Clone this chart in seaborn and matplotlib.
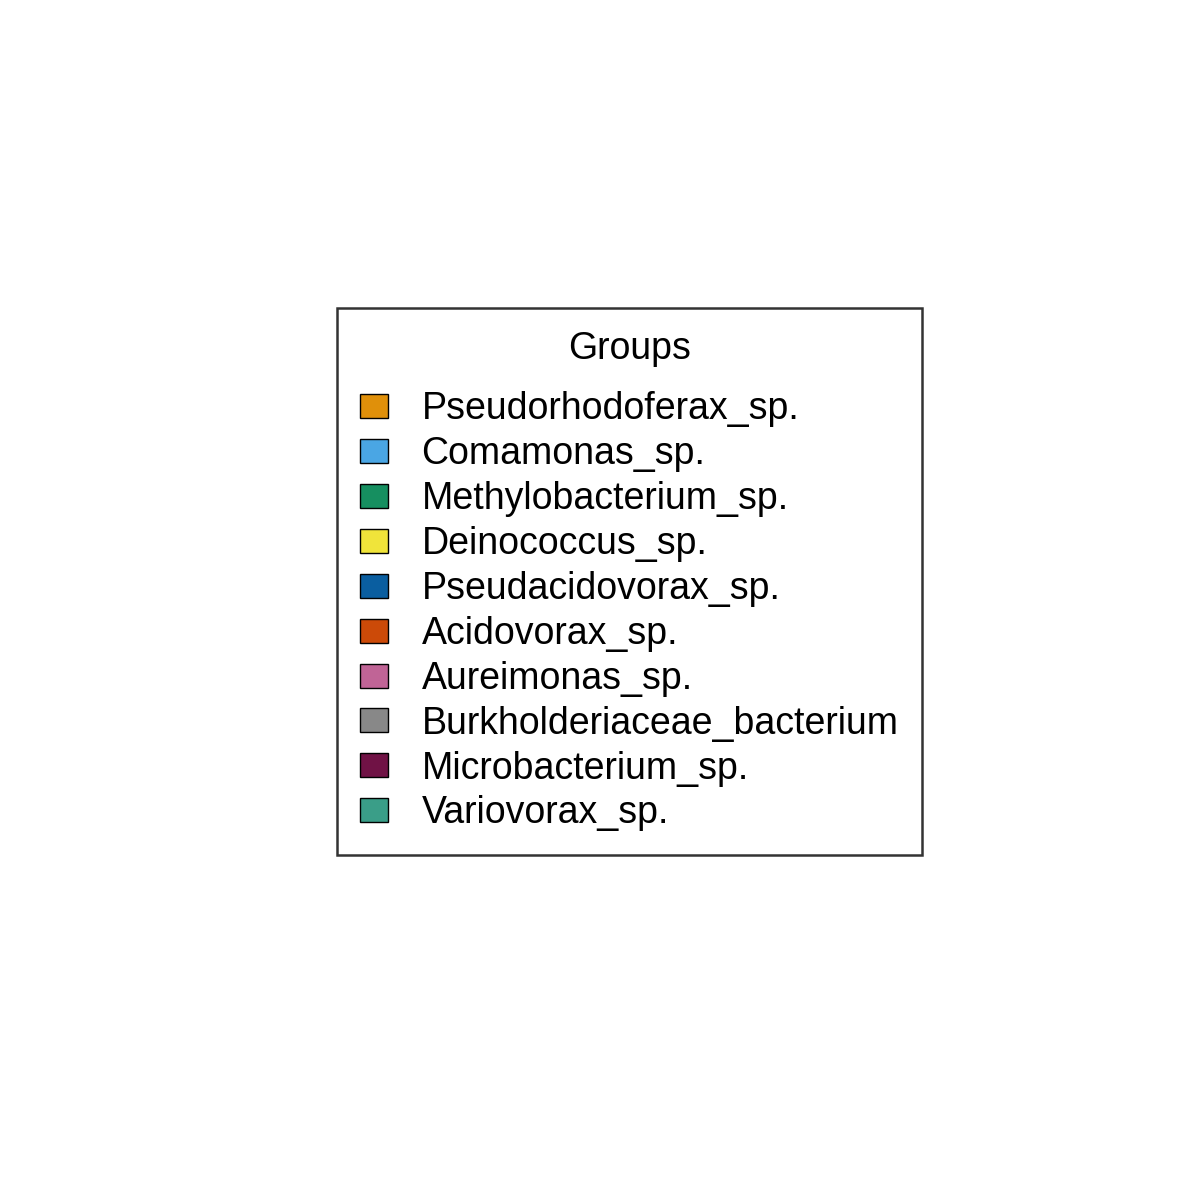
import matplotlib
matplotlib.use("Agg")
import matplotlib.pyplot as plt
import seaborn as sns
import pandas as pd

# legend-only figure: groups and their colours
groups = [
    "Pseudorhodoferax_sp.",
    "Comamonas_sp.",
    "Methylobacterium_sp.",
    "Deinococcus_sp.",
    "Pseudacidovorax_sp.",
    "Acidovorax_sp.",
    "Aureimonas_sp.",
    "Burkholderiaceae_bacterium",
    "Microbacterium_sp.",
    "Variovorax_sp.",
]
colors = [
    "#E0900A", "#4AA6E4", "#168F60", "#F0E43A", "#0A5EA0",
    "#CC4A08", "#C06496", "#888888", "#701245", "#3A9E88",
]
counts = [1, 1, 1, 1, 1, 1, 1, 1, 1, 1]

df = pd.DataFrame({"group": groups, "count": counts})

sns.set_style("white")
plt.rcParams["font.family"] = ["Liberation Sans", "DejaVu Sans"]
plt.rcParams["text.color"] = "black"

fig, ax = plt.subplots(figsize=(12, 12), dpi=100)
sns.barplot(data=df, x="group", y="count", hue="group",
            palette=dict(zip(groups, colors)), saturation=1,
            edgecolor="black", linewidth=1, legend=True, ax=ax)

old = ax.get_legend()
handles = list(old.legend_handles)
labels = [t.get_text() for t in old.get_texts()]
old.remove()
ax.set_visible(False)

fs = 27
leg = fig.legend(handles, labels, title="Groups", loc="center",
                 bbox_to_anchor=(0.5245, 0.5155), fontsize=fs,
                 title_fontsize=fs, frameon=True, fancybox=False,
                 edgecolor="black", handlelength=0.75, handleheight=0.61,
                 handletextpad=0.88, labelspacing=0.237, borderpad=0.62,
                 borderaxespad=0)
# extra room between the title and the entries
leg._legend_box.sep = 0.27 * fs + 10
leg.get_frame().set_linewidth(1.8)
leg.get_frame().set_edgecolor("black")
for p in leg.get_patches():
    p.set_edgecolor("black")
    p.set_linewidth(1)
for t in leg.get_texts():
    t.set_color("black")
leg.get_title().set_color("black")

fig.savefig("out.png", dpi=100)
